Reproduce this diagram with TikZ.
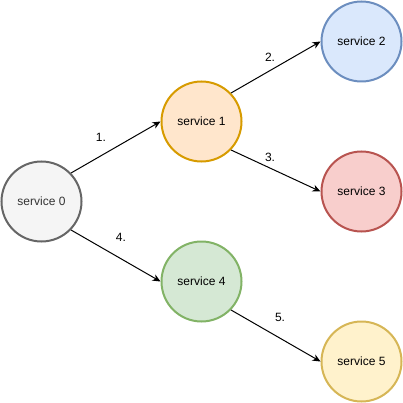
\documentclass[tikz,border=0pt]{standalone}
\usepackage{fontspec}
\setmainfont{Liberation Sans}
\usetikzlibrary{arrows.meta}
\definecolor{f0}{HTML}{F5F5F5}\definecolor{s0}{HTML}{666666}
\definecolor{f1}{HTML}{FFE6CC}\definecolor{s1}{HTML}{D79B00}
\definecolor{f2}{HTML}{DAE8FC}\definecolor{s2}{HTML}{6C8EBF}
\definecolor{f3}{HTML}{F8CECC}\definecolor{s3}{HTML}{B85450}
\definecolor{f4}{HTML}{D5E8D4}\definecolor{s4}{HTML}{82B366}
\definecolor{f5}{HTML}{FFF2CC}\definecolor{s5}{HTML}{D6B656}
\definecolor{txt0}{HTML}{333333}
\tikzset{
  svc/.style={circle, minimum size=80pt, inner sep=0pt, line width=2pt, font=\fontsize{12}{14}\selectfont},
  conn/.style={line width=1pt, -{Stealth[length=8pt,width=7pt,inset=2.5pt]}},
  lbl/.style={font=\fontsize{12}{14}\selectfont, inner sep=0pt}
}
\begin{document}
\begin{tikzpicture}[x=1pt,y=-1pt]
\useasboundingbox (0,0) rectangle (403,403);
\node[svc, fill=f0, draw=s0, text=txt0] (n0) at (41.5,201.5) {service 0};
\node[svc, fill=f1, draw=s1] (n1) at (201.5,121.5) {service 1};
\node[svc, fill=f2, draw=s2] (n2) at (361.5,41.5) {service 2};
\node[svc, fill=f3, draw=s3] (n3) at (361.5,191.5) {service 3};
\node[svc, fill=f4, draw=s4] (n4) at (201.5,281.5) {service 4};
\node[svc, fill=f5, draw=s5] (n5) at (361.5,361.5) {service 5};
\draw[conn] (n0.44) -- (n1.west);
\draw[conn] (n1.44) -- (n2.west);
\draw[conn] (n1.-44) -- (n3.west);
\draw[conn] (n0.-44) -- (n4.west);
\draw[conn] (n4.-44) -- (n5.west);
\node[lbl] (l1) at (101,137) {1.};
\node[lbl] (l2) at (270,57) {2.};
\node[lbl] (l3) at (270,157) {3.};
\node[lbl] (l4) at (121,237) {4.};
\node[lbl] (l5) at (280,317) {5.};
\end{tikzpicture}
\end{document}
